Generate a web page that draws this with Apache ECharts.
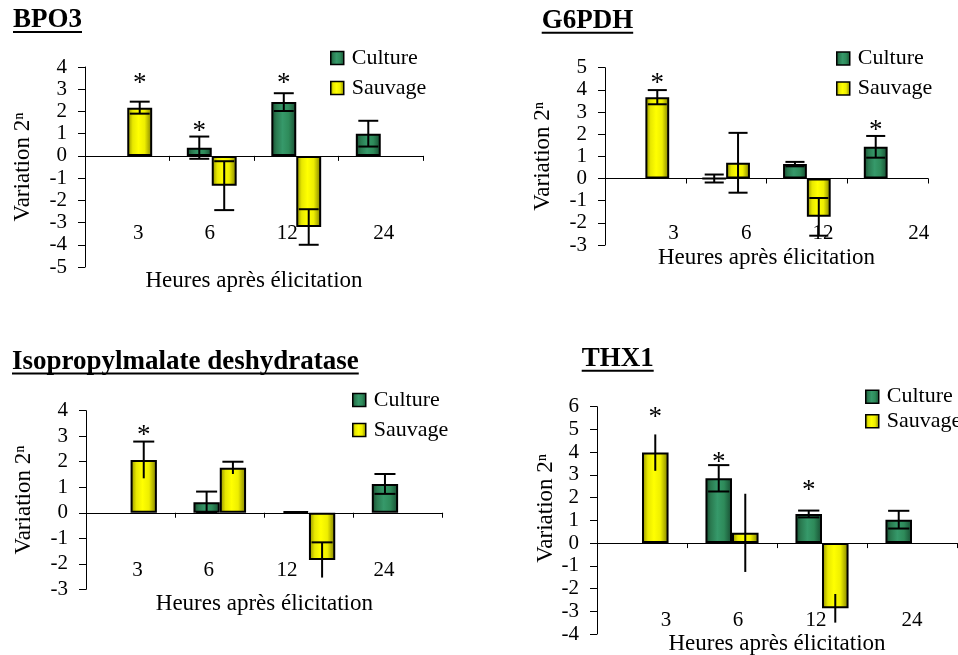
<!DOCTYPE html>
<html>
<head>
<meta charset="utf-8">
<script src="https://cdn.jsdelivr.net/npm/echarts@6/dist/echarts.min.js"></script>
<style>
html,body{margin:0;padding:0;background:#fff;}
#chart{width:958px;height:655px;}
</style>
</head>
<body>
<div id="chart"></div>
<script>
// ---------- DATA ----------
const categories = ['3', '6', '12', '24'];
const seriesNames = ['Culture', 'Sauvage'];
const xAxisTitle = 'Heures après élicitation';
const yAxisTitle = 'Variation 2ⁿ';

// BPO3
const bpo3Culture = [null, 0.37, 2.42, 1.0];
const bpo3CultureErr = [null, 0.5, 0.4, 0.58];
const bpo3Sauvage = [2.17, -1.34, -3.2, null];
const bpo3SauvageErr = [0.27, 1.1, 0.8, null];
const bpo3StarCulture = [null, 1.28, 3.4, null];
const bpo3StarSauvage = [3.4, null, null, null];
const bpo3Range = [-5, 4];

// G6PDH
const g6pdhCulture = [null, 0, 0.65, 1.43];
const g6pdhCultureErr = [null, 0.18, 0.1, 0.49];
const g6pdhSauvage = [3.67, 0.71, -1.73, null];
const g6pdhSauvageErr = [0.32, 1.35, 0.85, null];
const g6pdhStarCulture = [null, null, null, 2.35];
const g6pdhStarSauvage = [4.47, null, null, null];
const g6pdhRange = [-3, 5];

// Isopropylmalate deshydratase
const ipmCulture = [null, 0.41, 0.06, 1.13];
const ipmCultureErr = [null, 0.42, null, 0.39];
const ipmSauvage = [2.07, 1.76, -1.85, null];
const ipmSauvageErr = [0.72, 0.24, 0.69, null];
const ipmStarCulture = [null, null, null, null];
const ipmStarSauvage = [3.18, null, null, null];
const ipmRange = [-3, 4];

// THX1
const thx1Culture = [null, 2.85, 1.28, 1.03];
const thx1CultureErr = [null, 0.58, 0.15, 0.39];
const thx1Sauvage = [3.98, 0.45, -2.87, null];
const thx1SauvageErr = [0.8, 1.72, 0.63, null];
const thx1StarCulture = [null, 3.7, 2.48, null];
const thx1StarSauvage = [5.68, null, null, null];
const thx1Range = [-4, 6];

// ---------- LAYOUT / STYLE ----------
const FONT = '"Liberation Serif", "Times New Roman", serif';
const BAR_RATIO = 0.295;

const panels = [
  { title: 'BPO3', culture: bpo3Culture, cultureErr: bpo3CultureErr, sauvage: bpo3Sauvage, sauvageErr: bpo3SauvageErr,
    starC: bpo3StarCulture, starS: bpo3StarSauvage, range: bpo3Range,
    grid: { left: 85, top: 67, width: 338, height: 200 }, labelMargin: -44.5, xNameGap: 2.5, yNameGap: 51, yNameShift: 0,
    legend: { left: 330, top: 47, gap: 8 }, titlePos: { x: 13, base: 29.3 }, labelShift: [11, -2, -9, 3],
    capC: 'both', capS: 'both' },
  { title: 'G6PDH', culture: g6pdhCulture, cultureErr: g6pdhCultureErr, sauvage: g6pdhSauvage, sauvageErr: g6pdhSauvageErr,
    starC: g6pdhStarCulture, starS: g6pdhStarSauvage, range: g6pdhRange,
    grid: { left: 605, top: 67.7, width: 323, height: 177.3 }, labelMargin: -22.5, xNameGap: 1.5, yNameGap: 51, yNameShift: 0,
    legend: { left: 836, top: 47.5, gap: 8 }, titlePos: { x: 541.7, base: 30 }, labelShift: [28, 20, 16, 31],
    capC: 'both', capS: 'both' },
  { title: 'Isopropylmalate deshydratase', culture: ipmCulture, cultureErr: ipmCultureErr, sauvage: ipmSauvage, sauvageErr: ipmSauvageErr,
    starC: ipmStarCulture, starS: ipmStarSauvage, range: ipmRange,
    grid: { left: 86, top: 410.7, width: 356.7, height: 178.6 }, labelMargin: -29.8, xNameGap: 3.2, yNameGap: 50.5, yNameShift: 0,
    legend: { left: 352, top: 389, gap: 8 }, titlePos: { x: 12, base: 370.8 }, labelShift: [7, -11, -22, -14],
    capC: 'both', capS: 'top' },
  { title: 'THX1', culture: thx1Culture, cultureErr: thx1CultureErr, sauvage: thx1Sauvage, sauvageErr: thx1SauvageErr,
    starC: thx1StarCulture, starS: thx1StarSauvage, range: thx1Range,
    grid: { left: 597, top: 406.7, width: 360, height: 227.3 }, labelMargin: -24.5, xNameGap: -1.5, yNameGap: 37, yNameShift: 12,
    legend: { left: 865, top: 385.7, gap: 2.5 }, titlePos: { x: 581.7, base: 368 }, labelShift: [24, 6, -6, 0],
    capC: 'both', capS: 'none' }
];

const greenFill = { type: 'linear', x: 0, y: 0, x2: 1, y2: 0, colorStops: [
  { offset: 0, color: '#15482e' }, { offset: 0.2, color: '#2a7a50' }, { offset: 0.45, color: '#36996a' },
  { offset: 0.7, color: '#2e8b5a' }, { offset: 1, color: '#164a30' }] };
const yellowFill = { type: 'linear', x: 0, y: 0, x2: 1, y2: 0, colorStops: [
  { offset: 0, color: '#8a8a00' }, { offset: 0.22, color: '#e8e800' }, { offset: 0.45, color: '#ffff00' },
  { offset: 0.7, color: '#eeee00' }, { offset: 1, color: '#7a7a00' }] };

function errRender(dir, capMode) {
  return function (params, api) {
    const cat = api.value(0), v = api.value(1), e = api.value(2);
    const c = api.coord([cat, v]);
    const band = api.size([1, 0])[0];
    const bw = band * BAR_RATIO;
    const x = c[0] + dir * bw / 2;
    const yT = api.coord([cat, v + e])[1];
    const yB = api.coord([cat, v - e])[1];
    const half = bw * 0.4;
    const st = { stroke: '#000', lineWidth: 2 };
    const ch = [{ type: 'line', shape: { x1: x, y1: yT, x2: x, y2: yB }, style: st }];
    if (capMode === 'both' || capMode === 'top') ch.push({ type: 'line', shape: { x1: x - half, y1: yT, x2: x + half, y2: yT }, style: st });
    if (capMode === 'both' || capMode === 'bottom') ch.push({ type: 'line', shape: { x1: x - half, y1: yB, x2: x + half, y2: yB }, style: st });
    return { type: 'group', children: ch };
  };
}

function starRender(params, api) {
  const cat = api.value(0), v = api.value(1), dir = api.value(2);
  const c = api.coord([cat, v]);
  const band = api.size([1, 0])[0];
  const x = c[0] + dir * band * BAR_RATIO / 2;
  return { type: 'text', x: x, y: c[1] + 4, style: { text: '*', font: '27px ' + FONT, fill: '#000', align: 'center', verticalAlign: 'middle' } };
}

const measureCtx = document.createElement('canvas').getContext('2d');

const option = { backgroundColor: '#fff', animation: false, grid: [], xAxis: [], yAxis: [], series: [], legend: [], graphic: [] };

panels.forEach((p, k) => {
  option.grid.push(Object.assign({ containLabel: false, outerBoundsMode: 'none' }, p.grid));
  const rich = {};
  p.labelShift.forEach((d, i) => {
    rich['s' + i] = { fontSize: 21, fontFamily: FONT, color: '#000', lineHeight: 21,
      padding: d >= 0 ? [0, 0, 0, 2 * d] : [0, -2 * d, 0, 0] };
  });
  option.xAxis.push({
    type: 'category', gridIndex: k, data: categories,
    axisLine: { onZero: true, lineStyle: { color: '#000', width: 1 } },
    axisTick: { show: true, length: 5, lineStyle: { color: '#000' } },
    axisLabel: { margin: p.labelMargin, formatter: (v, i) => '{s' + i + '|' + v + '}', rich: rich, hideOverlap: false },
    splitLine: { show: false },
    name: xAxisTitle, nameLocation: 'middle', nameGap: p.xNameGap,
    nameTextStyle: { fontSize: 23, fontFamily: FONT, color: '#000', lineHeight: 23 }
  });
  option.yAxis.push({
    type: 'value', gridIndex: k, min: p.range[0], max: p.range[1], interval: 1,
    axisLine: { show: true, lineStyle: { color: '#000', width: 1 } },
    axisTick: { show: true, length: 7, lineStyle: { color: '#000' } },
    axisLabel: { margin: 18, fontSize: 21, fontFamily: FONT, color: '#000' },
    splitLine: { show: false },
    name: yAxisTitle, nameLocation: 'middle', nameGap: p.yNameGap,
    nameTextStyle: { fontSize: 23, fontFamily: FONT, color: '#000', lineHeight: 23,
      padding: p.yNameShift ? [0, 0, 0, 2 * p.yNameShift] : 0 }
  });
  option.series.push({
    type: 'bar', name: seriesNames[0], xAxisIndex: k, yAxisIndex: k, data: p.culture,
    barWidth: (BAR_RATIO * 100) + '%', barGap: '0%',
    itemStyle: { color: greenFill, borderColor: '#000', borderWidth: 2 }
  });
  option.series.push({
    type: 'bar', name: seriesNames[1], xAxisIndex: k, yAxisIndex: k, data: p.sauvage,
    barWidth: (BAR_RATIO * 100) + '%', barGap: '0%',
    itemStyle: { color: yellowFill, borderColor: '#000', borderWidth: 2 }
  });
  const errC = [], errS = [], stars = [];
  categories.forEach((c, i) => {
    if (p.culture[i] != null && p.cultureErr[i] != null) errC.push([i, p.culture[i], p.cultureErr[i]]);
    if (p.sauvage[i] != null && p.sauvageErr[i] != null) errS.push([i, p.sauvage[i], p.sauvageErr[i]]);
    if (p.starC[i] != null) stars.push([i, p.starC[i], -1]);
    if (p.starS[i] != null) stars.push([i, p.starS[i], 1]);
  });
  option.series.push({ type: 'custom', name: 'errC' + k, xAxisIndex: k, yAxisIndex: k, data: errC,
    encode: { x: 0, y: 1 }, renderItem: errRender(-1, p.capC), z: 5 });
  option.series.push({ type: 'custom', name: 'errS' + k, xAxisIndex: k, yAxisIndex: k, data: errS,
    encode: { x: 0, y: 1 }, renderItem: errRender(1, p.capS), z: 5 });
  option.series.push({ type: 'custom', name: 'stars' + k, xAxisIndex: k, yAxisIndex: k, data: stars,
    encode: { x: 0, y: 1 }, renderItem: starRender, z: 6 });

  option.legend.push({
    orient: 'vertical', left: p.legend.left, top: p.legend.top, padding: 0,
    itemGap: p.legend.gap, itemWidth: 13, itemHeight: 13, icon: 'rect', selectedMode: false,
    data: seriesNames,
    itemStyle: { borderColor: '#000', borderWidth: 1.5 },
    textStyle: { fontSize: 22, fontFamily: FONT, color: '#000', lineHeight: 22, padding: [0, 0, 0, 3] }
  });

  const tfont = 'bold 27px "Liberation Serif"';
  measureCtx.font = tfont;
  const tw = measureCtx.measureText(p.title).width;
  option.graphic.push({ type: 'text', x: p.titlePos.x, y: p.titlePos.base - 0.8375 * 27,
    style: { text: p.title, font: tfont, fill: '#000', verticalAlign: 'top' } });
  option.graphic.push({ type: 'line', shape: { x1: p.titlePos.x, y1: p.titlePos.base + 2.8, x2: p.titlePos.x + tw, y2: p.titlePos.base + 2.8 },
    style: { stroke: '#000', lineWidth: 2 } });
});

const chart = echarts.init(document.getElementById('chart'), null, { renderer: 'canvas' });
chart.setOption(option);
</script>
</body>
</html>
